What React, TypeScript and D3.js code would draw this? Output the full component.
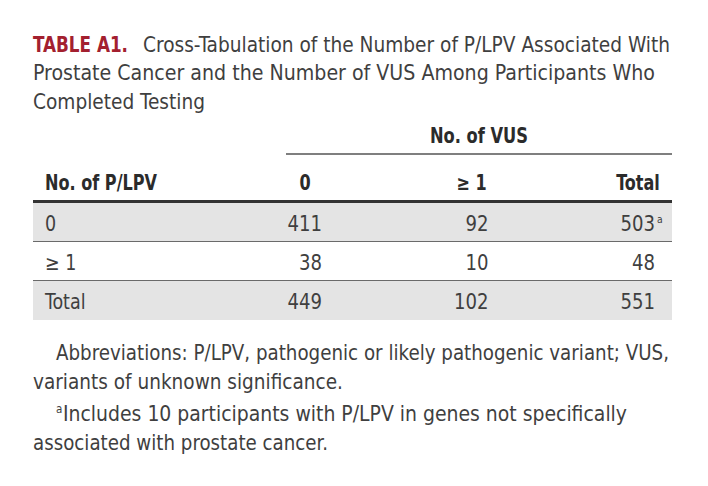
import React from "react";
import { scaleBand, scalePoint } from "d3";

// table content
const titleLabel = "TABLE A1.";
const titleLines = [
  "Cross-Tabulation of the Number of P/LPV Associated With",
  "Prostate Cancer and the Number of VUS Among Participants Who",
  "Completed Testing",
];
const spannerLabel = "No. of VUS";
const rowHeader = "No. of P/LPV";
const columns = ["0", "≥ 1", "Total"];
const rowLabels = ["0", "≥ 1", "Total"];
const values = [
  [411, 92, 503],
  [38, 10, 48],
  [449, 102, 551],
];
const noteMarks = [
  [null, null, "a"],
  [null, null, null],
  [null, null, null],
];
const footnoteLines = [
  "Abbreviations: P/LPV, pathogenic or likely pathogenic variant; VUS,",
  "variants of unknown significance.",
  "Includes 10 participants with P/LPV in genes not specifically",
  "associated with prostate cancer.",
];
const footnoteMarks = ["", "", "a", ""];

// layout: the narrow face in the reference is not installed, so lines are fitted to its widths
const W = 708;
const H = 486;
const FONT = "'Liberation Sans Narrow', 'DejaVu Sans Condensed', 'Roboto Condensed', sans-serif";
const TEXT = "#3f3f3f";
const HEAD = "#2b2b2b";
const RED = "#a3202f";
const SHADE = "#e4e4e4";
const FS = 20.5;
const titleLayout = [
  { x: 143, y: 52, len: 527 },
  { x: 33, y: 80, len: 622 },
  { x: 33, y: 108.5, len: 172 },
];
const footLayout = [
  { x: 56, y: 360, len: 613 },
  { x: 33, y: 389, len: 310 },
  { x: 63, y: 421, len: 564 },
  { x: 33, y: 450, len: 295 },
];

export default function App() {
  const left = 33;
  const right = 672;

  const y = scaleBand<string>().domain(rowLabels).range([203, 320]).paddingInner(0);
  const x = scalePoint<string>().domain(columns).range([305, 638]);
  const numRight = 17; // numbers are right-aligned, headers centred on the column

  return (
    <svg width={W} height={H} style={{ position: "absolute", left: 0, top: 0, background: "#fff" }}
      fontFamily={FONT} fontStretch="condensed">
      {/* title */}
      <text x={left} y={52} fontSize={22} fill={RED} fontWeight={700} textLength={95} lengthAdjust="spacingAndGlyphs">{titleLabel}</text>
      {titleLines.map((t, i) => (
        <text key={t} x={titleLayout[i].x} y={titleLayout[i].y} fontSize={FS} fill={TEXT}
          textLength={titleLayout[i].len} lengthAdjust="spacingAndGlyphs">{t}</text>
      ))}

      {/* spanner */}
      <text x={479} y={143} fontSize={FS} fontWeight={700} fill={HEAD} textAnchor="middle"
        textLength={98} lengthAdjust="spacingAndGlyphs">{spannerLabel}</text>
      <line x1={286} x2={right} y1={154} y2={154} stroke="#555" strokeWidth={1.3} />

      {/* header row */}
      <text x={45} y={190} fontSize={FS} fontWeight={700} fill={HEAD} textLength={112} lengthAdjust="spacingAndGlyphs">{rowHeader}</text>
      {columns.map((c) => (
        <g key={c} transform={`translate(${x(c) ?? 0},190) scale(0.87,1)`}>
          <text x={0} y={0} fontSize={FS} fontWeight={700} fill={HEAD} textAnchor="middle">{c}</text>
        </g>
      ))}

      {/* body */}
      {rowLabels.map((r, i) => {
        const y0 = y(r) ?? 0;
        const bh = y.bandwidth();
        const base = y0 + bh / 2 + 8;
        return (
          <g key={r}>
            {i % 2 === 0 && <rect x={left} y={y0} width={right - left} height={bh} fill={SHADE} />}
            <g transform={`translate(45,${base}) scale(0.95,1)`}>
              <text x={0} y={0} fontSize={FS} fill={TEXT}>{r}</text>
            </g>
            {values[i].map((v, j) => (
              <g key={j} transform={`translate(${(x(columns[j]) ?? 0) + numRight},${base}) scale(0.98,1)`}>
                <text x={0} y={0} fontSize={FS} fill={TEXT} textAnchor="end">{v}</text>
                {noteMarks[i][j] && <text x={2} y={-8} fontSize={10.5} fill={TEXT}>{noteMarks[i][j]}</text>}
              </g>
            ))}
          </g>
        );
      })}
      <line x1={left} x2={right} y1={201.5} y2={201.5} stroke="#333" strokeWidth={3} />
      {rowLabels.slice(1).map((r) => (
        <line key={r} x1={left} x2={right} y1={(y(r) ?? 0) - 0.5} y2={(y(r) ?? 0) - 0.5} stroke="#6a6a6a" strokeWidth={1} />
      ))}

      {/* footnotes */}
      {footnoteLines.map((l, i) => (
        <g key={l}>
          {footnoteMarks[i] && <text x={56} y={footLayout[i].y - 8} fontSize={11.5} fill={TEXT}>{footnoteMarks[i]}</text>}
          <text x={footLayout[i].x} y={footLayout[i].y} fontSize={FS} fill={TEXT}
            textLength={footLayout[i].len} lengthAdjust="spacingAndGlyphs">{l}</text>
        </g>
      ))}
    </svg>
  );
}
